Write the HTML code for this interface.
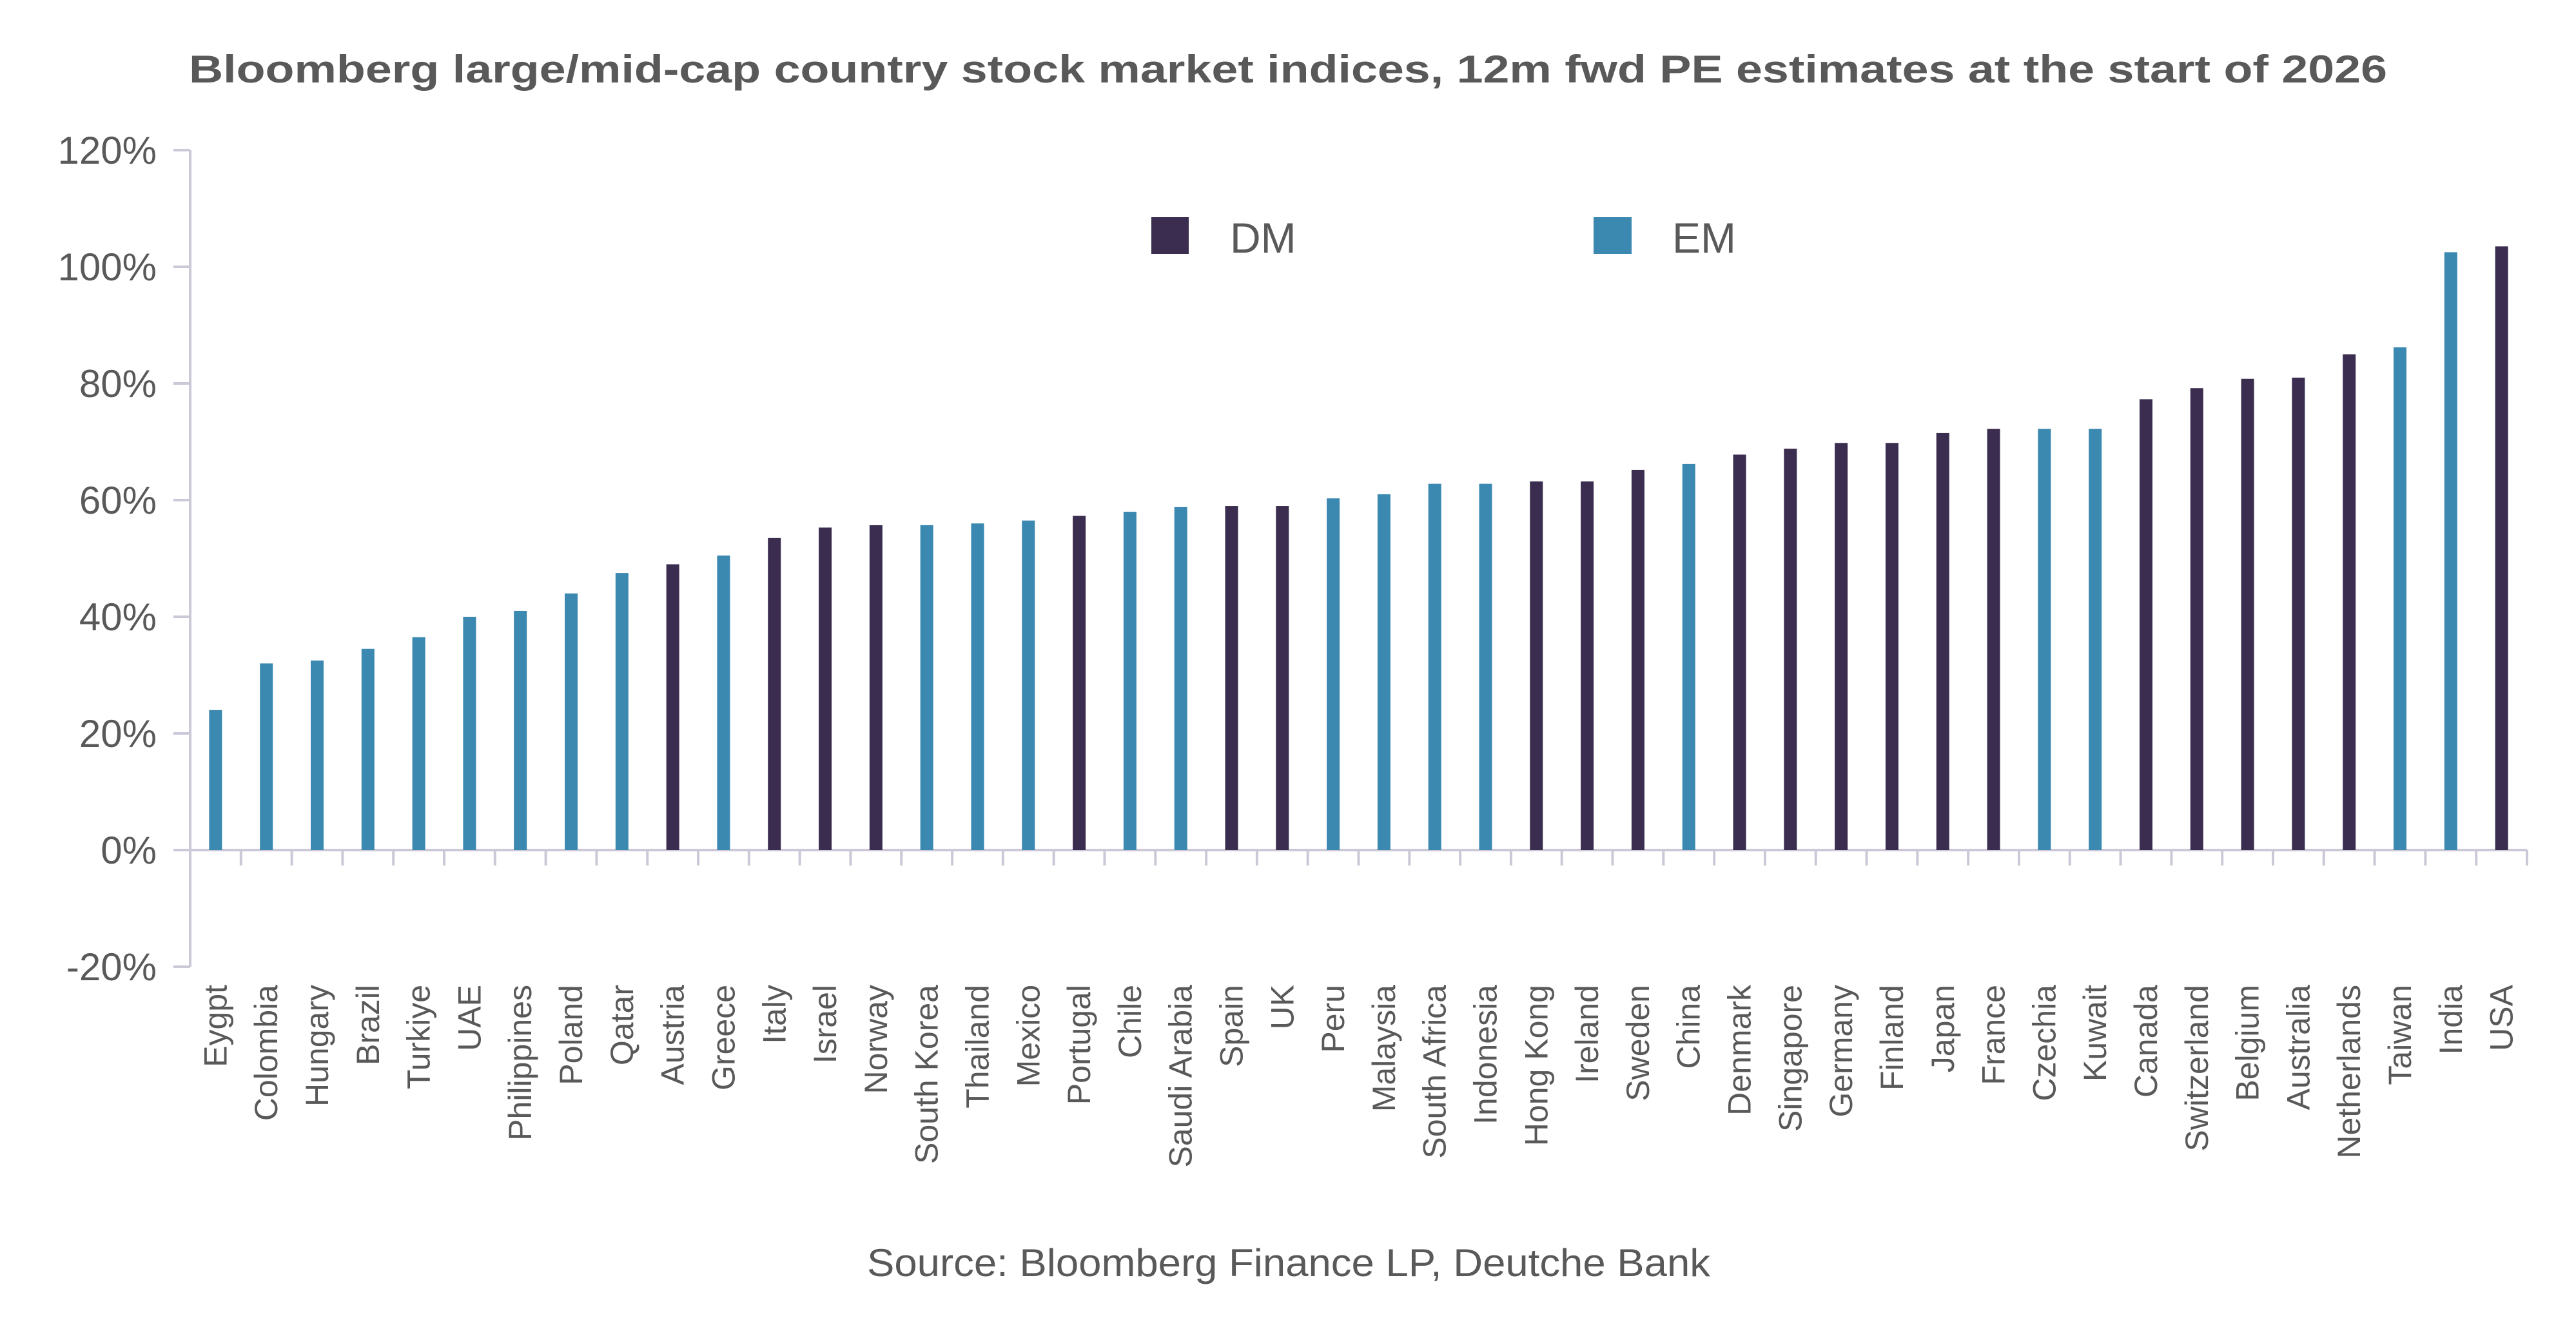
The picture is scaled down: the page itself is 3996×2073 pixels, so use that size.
<!DOCTYPE html>
<html><head><meta charset="utf-8"><style>
html,body{margin:0;padding:0;background:#fff;}
svg{display:block;font-family:"Liberation Sans",sans-serif;}
</style></head><body>
<svg id="chart" width="3996" height="2073" viewBox="0 0 3996 2073" xmlns="http://www.w3.org/2000/svg">
<text x="1998" y="128" text-anchor="middle" font-size="60" font-weight="bold" fill="#595959" textLength="3410" lengthAdjust="spacingAndGlyphs">Bloomberg large/mid-cap country stock market indices, 12m fwd PE estimates at the start of 2026</text>
<g>
<rect x="1786" y="337" width="58" height="57" fill="#3b2d4f"/>
<text x="1908" y="392" font-size="66" fill="#595959">DM</text>
<rect x="2472" y="337" width="59" height="57" fill="#3b88b0"/>
<text x="2594" y="392" font-size="66" fill="#595959">EM</text>
</g>
<text x="1345" y="1980" font-size="60" fill="#595959" textLength="1308" lengthAdjust="spacingAndGlyphs">Source: Bloomberg Finance LP, Deutche Bank</text>
<g id="axes"></g>
<g id="bars"></g>
<g id="labels"></g>
</svg>
<script>
const categories = ["Eygpt","Colombia","Hungary","Brazil","Turkiye","UAE","Philippines","Poland","Qatar","Austria","Greece","Italy","Israel","Norway","South Korea","Thailand","Mexico","Portugal","Chile","Saudi Arabia","Spain","UK","Peru","Malaysia","South Africa","Indonesia","Hong Kong","Ireland","Sweden","China","Denmark","Singapore","Germany","Finland","Japan","France","Czechia","Kuwait","Canada","Switzerland","Belgium","Australia","Netherlands","Taiwan","India","USA"];
const values = [24,32,32.5,34.5,36.5,40,41,44,47.5,49,50.5,53.5,55.3,55.7,55.7,56,56.5,57.3,58,58.8,59,59,60.3,61,62.8,62.8,63.2,63.2,65.2,66.2,67.8,68.8,69.8,69.8,71.5,72.2,72.2,72.2,77.3,79.2,80.8,81,85,86.2,102.5,103.5];
const groups = ["EM","EM","EM","EM","EM","EM","EM","EM","EM","DM","EM","DM","DM","DM","EM","EM","EM","DM","EM","EM","DM","DM","EM","EM","EM","EM","DM","DM","DM","EM","DM","DM","DM","DM","DM","DM","EM","EM","DM","DM","DM","DM","DM","EM","EM","DM"];
const yTicks = [-20,0,20,40,60,80,100,120];
const yTickLabels = ["-20%","0%","20%","40%","60%","80%","100%","120%"];

const NS = "http://www.w3.org/2000/svg";
const X0 = 295, X1 = 3920, YTOP = 233, YBOT = 1500;
const VMIN = -20, VMAX = 120;
function yScale(v){ return YBOT - (v - VMIN) / (VMAX - VMIN) * (YBOT - YTOP); }
const bw = (X1 - X0) / categories.length;
function xBand(i){ return X0 + i * bw; }
const colors = {DM:"#3b2d4f", EM:"#3b88b0"};
function mk(tag, attrs, parent){ const e = document.createElementNS(NS, tag); for (const k in attrs) e.setAttribute(k, attrs[k]); parent.appendChild(e); return e; }

const axes = document.getElementById("axes");
const ax = mk("line", {x1:X0, y1:YTOP, x2:X0, y2:YBOT, stroke:"#cdc8d8", "stroke-width":4}, axes);


yTicks.forEach((t, i) => {
  const y = yScale(t);
  const tk = mk("line", {x1:X0-26, y1:y, x2:X0, y2:y, stroke:"#cdc8d8", "stroke-width":4}, axes);
  
  
  const tl = mk("text", {x:X0-52, y:y+21, "text-anchor":"end", "font-size":60, fill:"#595959"}, axes);
  tl.textContent = yTickLabels[i];
  
  
});
const y0 = yScale(0);
const xa = mk("line", {x1:X0, y1:y0, x2:X1, y2:y0, stroke:"#cdc8d8", "stroke-width":4}, axes);


for (let i = 1; i <= categories.length; i++) {
  const x = xBand(i);
  const tk = mk("line", {x1:x, y1:y0, x2:x, y2:y0+24, stroke:"#cdc8d8", "stroke-width":4}, axes);
  
  
}
const barsG = document.getElementById("bars");
const labelsG = document.getElementById("labels");
const barW = 20;
categories.forEach((c, i) => {
  const cx = xBand(i) + bw / 2;
  const yv = yScale(values[i]);
  const r = mk("rect", {x:cx-barW/2, y:Math.min(yv,y0), width:barW, height:Math.abs(y0-yv), fill:colors[groups[i]]}, barsG);
  
  
  const t = mk("text", {x:0, y:0, transform:"translate(" + (cx+17) + ",1528) rotate(-90)", "text-anchor":"end", "font-size":50, fill:"#595959"}, labelsG);
  t.textContent = c;
  
  
});
</script>
</body></html>
